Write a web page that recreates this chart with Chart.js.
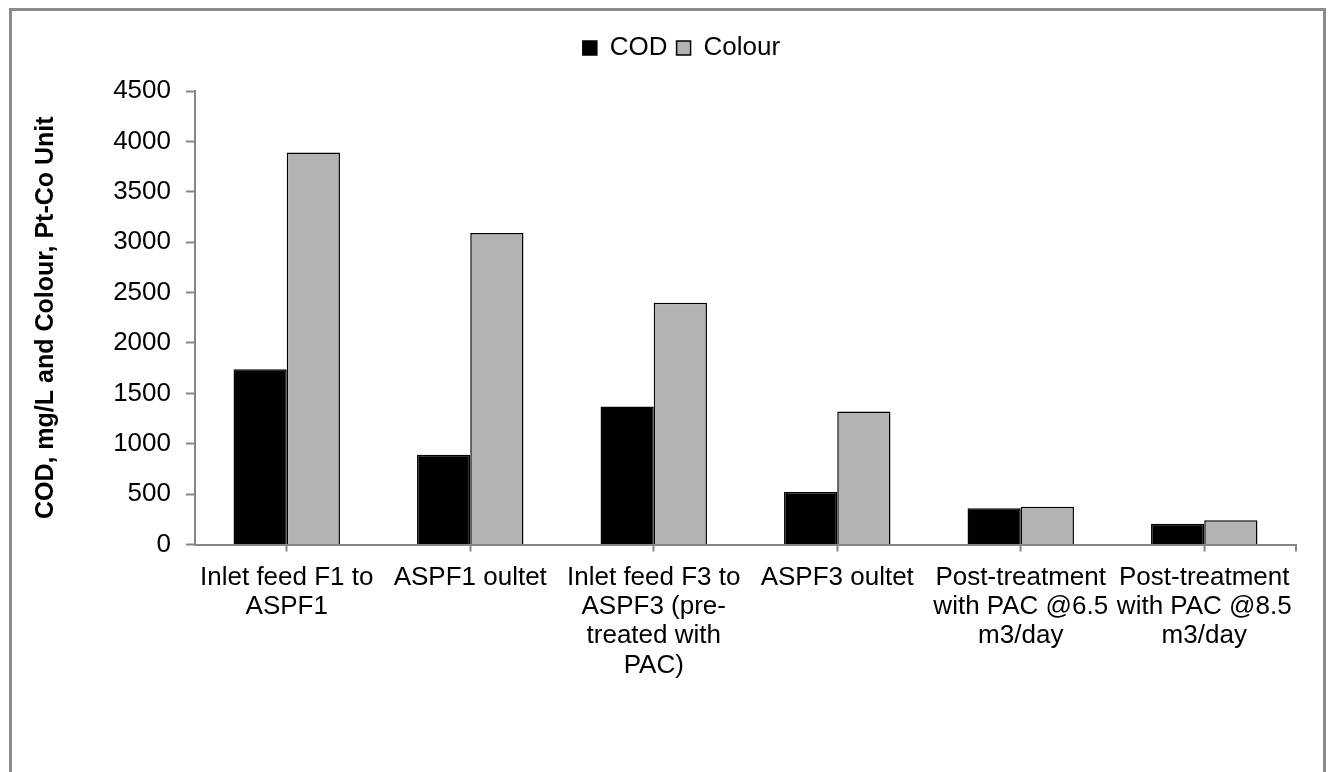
<!DOCTYPE html>
<html>
<head>
<meta charset="utf-8">
<script src="https://cdn.jsdelivr.net/npm/chart.js@4/dist/chart.umd.min.js"></script>
<style>
  html, body { margin: 0; padding: 0; background: #ffffff; }
  #wrap { width: 1330px; height: 772px; position: relative; }
</style>
</head>
<body>
<div id="wrap"><canvas id="chart"></canvas></div>
<script>
// Treatment stages along the category axis (multi-line labels)
const stages = [
  ["Inlet feed F1 to", "ASPF1"],
  ["ASPF1 oultet"],
  ["Inlet feed F3 to", "ASPF3 (pre-", "treated with", "PAC)"],
  ["ASPF3 oultet"],
  ["Post-treatment", "with PAC @6.5", "m3/day"],
  ["Post-treatment", "with PAC @8.5", "m3/day"]
];

// COD in mg/L
const codValues = [1740, 890, 1370, 520, 360, 205];
// Colour in Pt-Co units
const colourValues = [3890, 3090, 2400, 1320, 375, 240];

// Value axis ticks
const yTicks = [0, 500, 1000, 1500, 2000, 2500, 3000, 3500, 4000, 4500];

const FONT = "'Liberation Sans', Arial, Helvetica, sans-serif";
const AXIS_GREY = "#868686";
const TOP_PAD = 26;

// Outer frame around the whole chart, plus the closing tick at the end of the category axis
const framePlugin = {
  id: "frame",
  beforeDraw(chart) {
    const ctx = chart.ctx;
    ctx.save();
    ctx.strokeStyle = "#8a8a8a";
    ctx.lineWidth = 3;
    ctx.strokeRect(10.5, 9.5, 1314, 800);
    ctx.restore();
  },
  afterDraw(chart) {
    const ctx = chart.ctx;
    const a = chart.chartArea;
    ctx.save();
    ctx.strokeStyle = AXIS_GREY;
    ctx.lineWidth = 2;
    ctx.beginPath();
    ctx.moveTo(a.right, a.bottom);
    ctx.lineTo(a.right, a.bottom + 7);
    ctx.stroke();
    ctx.restore();
  }
};

// Fixed legend band height so the plot starts below it
const legendBand = {
  id: "legendBand",
  beforeInit(chart) {
    const origFit = chart.legend.fit;
    chart.legend.fit = function () {
      origFit.bind(chart.legend)();
      this.height = 91 - TOP_PAD;
    };
  }
};

new Chart(document.getElementById("chart"), {
  type: "bar",
  data: {
    labels: stages,
    datasets: [
      {
        label: "COD",
        data: codValues,
        backgroundColor: "#000000",
        borderColor: "#000000",
        borderWidth: 1.5,
        barPercentage: 1.0,
        categoryPercentage: 0.58
      },
      {
        label: "Colour",
        data: colourValues,
        backgroundColor: "#b3b3b3",
        borderColor: "#000000",
        borderWidth: 1.5,
        barPercentage: 1.0,
        categoryPercentage: 0.58
      }
    ]
  },
  options: {
    responsive: true,
    maintainAspectRatio: false,
    animation: false,
    layout: { padding: { left: 67, right: 34, top: TOP_PAD, bottom: 0 } },
    plugins: {
      legend: {
        position: "top",
        labels: {
          font: { family: FONT, size: 26 },
          color: "#000000",
          boxWidth: 14,
          boxHeight: 14,
          padding: 9
        }
      },
      tooltip: { enabled: false }
    },
    scales: {
      x: {
        offset: true,
        grid: {
          offset: false,
          drawOnChartArea: false,
          drawTicks: true,
          tickLength: 7,
          tickColor: AXIS_GREY,
          tickWidth: 2
        },
        border: { color: AXIS_GREY, width: 2 },
        ticks: {
          autoSkip: false,
          maxRotation: 0,
          minRotation: 0,
          color: "#000000",
          padding: 12,
          font: { family: FONT, size: 26, lineHeight: 1.12 }
        },
        afterFit(scale) { scale.height = 772 - 544.5; }
      },
      y: {
        min: 0,
        max: 4500,
        afterBuildTicks(scale) { scale.ticks = yTicks.map(v => ({ value: v })); },
        grid: {
          drawOnChartArea: false,
          drawTicks: true,
          tickLength: 9,
          tickColor: AXIS_GREY,
          tickWidth: 2
        },
        border: { color: AXIS_GREY, width: 2 },
        ticks: {
          color: "#000000",
          padding: 15,
          font: { family: FONT, size: 26 },
          callback: (v) => String(v)
        },
        title: {
          display: true,
          text: "COD, mg/L and Colour, Pt-Co Unit",
          color: "#000000",
          font: { family: FONT, size: 25, weight: "bold" },
          padding: { top: -36, bottom: 0 }
        },
        afterFit(scale) { scale.width = 195 - 67; }
      }
    }
  },
  plugins: [framePlugin, legendBand]
});
</script>
</body>
</html>
